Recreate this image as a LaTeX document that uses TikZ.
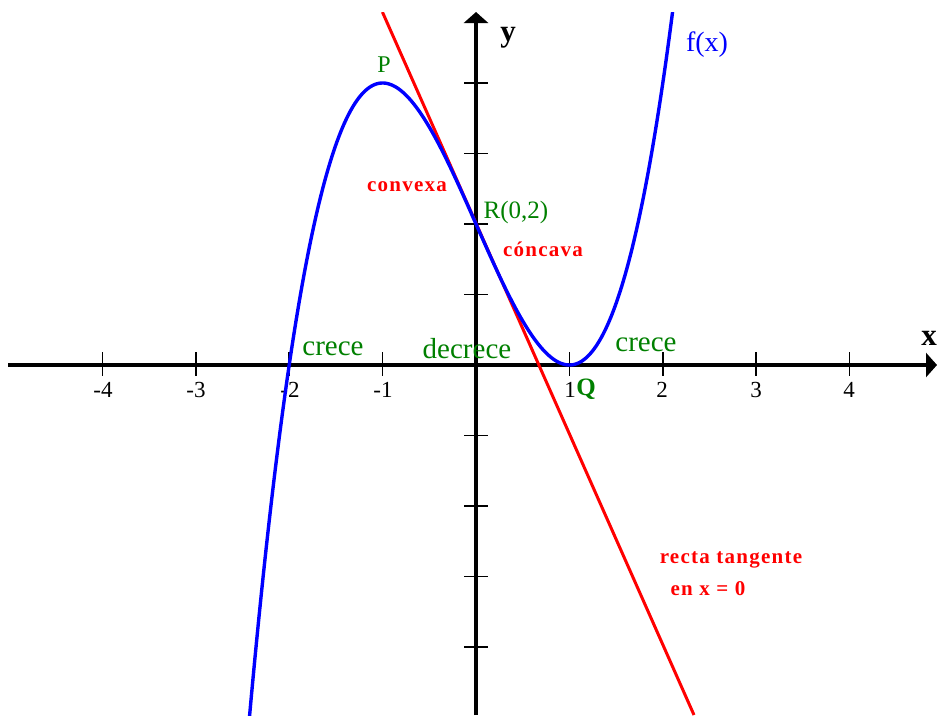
\documentclass[tikz,border=0pt]{standalone}
\usepackage{fontspec}
\setmainfont{Liberation Serif}
\usetikzlibrary{arrows.meta}
\definecolor{grn}{RGB}{0,128,0}
\tikzset{
  axis/.style={line width=3.6pt,black},
  tickmark/.style={line width=1.6pt,black},
  curve/.style={line width=3.4pt,blue,line join=round},
  tangent/.style={line width=3pt,red},
  ticklabel/.style={font=\fontsize{23}{26}\selectfont,inner sep=0pt},
  greenlab/.style={font=\fontsize{29}{32}\selectfont,text=grn,inner sep=0pt},
  redlab/.style={font=\fontsize{21}{24}\selectfont\bfseries\addfontfeature{LetterSpace=6},text=red,inner sep=0pt},
  axlab/.style={font=\fontsize{31}{33}\selectfont\bfseries,inner sep=0pt}
}
\begin{document}
\begin{tikzpicture}[x=1pt,y=-1pt]
\useasboundingbox (0,0) rectangle (937,715);
% axes
\coordinate (xl) at (8,365);
\coordinate (xr) at (937,365);
\coordinate (yb) at (476,715);
\coordinate (yt) at (476,12);
\draw[axis,-{Triangle[width=24pt,length=11pt]}] (xl) -- (xr);
\draw[axis,-{Triangle[width=24pt,length=11pt]}] (yb) -- (yt);
% ticks
\foreach \k in {-4,-3,-2,-1,1,2,3,4}{
  \draw[tickmark] ({476+93.4*\k},352) -- ({476+93.4*\k},376);
}
\foreach \k in {-4,-3,-2,-1,1,2,3,4}{
  \draw[tickmark] (464,{365-70.5*\k}) -- (488,{365-70.5*\k});
}
% tick labels
\node[ticklabel] (tm4) at (103,390) {-4};
\node[ticklabel] (tm3) at (196,390) {-3};
\node[ticklabel] (tm2) at (290,390) {-2};
\node[ticklabel] (tm1) at (383,390) {-1};
\node[ticklabel] (tp1) at (570,390) {1};
\node[ticklabel] (tp2) at (662,390) {2};
\node[ticklabel] (tp3) at (756,390) {3};
\node[ticklabel] (tp4) at (849,390) {4};
% curves
\begin{scope}
\clip (0,12) rectangle (937,715);
\draw[tangent] (382.4,12) -- (694,715);
\draw[curve] plot[domain=-2.46:2.11,samples=240,smooth] ({476+93.4*\x},{365-70.5*(\x*\x*\x-3*\x+2)});
\end{scope}
% labels
\node[axlab] (ylab) at (508,38) {y};
\node[axlab] (xlab) at (929,338) {x};
\node[font=\fontsize{28}{30}\selectfont,text=blue,inner sep=0pt] (flab) at (707,45) {f(x)};
\node[font=\fontsize{24}{26}\selectfont,text=grn,inner sep=0pt] (P) at (384,65) {P};
\node[font=\fontsize{25}{28}\selectfont,text=grn,inner sep=0pt] (R) at (516,212) {R(0,2)};
\node[font=\fontsize{25}{28}\selectfont\bfseries,text=grn,inner sep=0pt] (Q) at (586,389) {Q};
\node[redlab] (convexa) at (407,187) {convexa};
\node[redlab] (concava) at (543,249) {cóncava};
\node[greenlab] (crece1) at (333,349) {crece};
\node[greenlab] (decrece) at (467,349) {decrece};
\node[greenlab] (crece2) at (646,345) {crece};
\node[redlab] (recta) at (731,560) {recta tangente};
\node[redlab] (enx) at (708,589) {en x = 0};
\end{tikzpicture}
\end{document}
